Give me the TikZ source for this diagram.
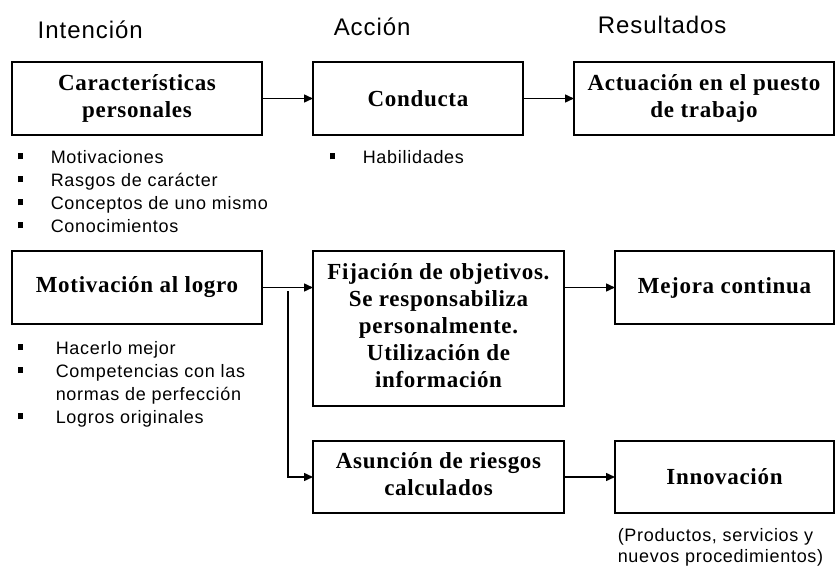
\documentclass[tikz,border=0pt]{standalone}
\usepackage{fontspec}
\setmainfont{Liberation Serif}
\newfontfamily\headfont[LetterSpace=4]{Liberation Sans}
\newfontfamily\listfont[LetterSpace=4]{Liberation Sans}
\newfontfamily\boxfont[LetterSpace=3]{Liberation Serif}
\usetikzlibrary{arrows.meta}
\tikzset{
	box/.style={draw, inner sep=0, outer sep=0,
		font=\boxfont\bfseries\fontsize{23}{27}\selectfont},
	head/.style={inner sep=0, anchor=base west,
		font=\headfont\fontsize{24}{28}\selectfont},
	lst/.style={inner sep=0, anchor=base west,
		font=\listfont\fontsize{18}{23}\selectfont}
}
\newcommand{\bul}{\rule[4pt]{5pt}{6pt}}
\newcommand{\itm}[2][33pt]{\makebox[#1][l]{\bul}#2}

\begin{document}
\begin{tikzpicture}[x=1pt,y=-1pt,->,>={Triangle[length=9pt,width=8pt]},
		line width=1.5pt]
		\useasboundingbox (0,0) rectangle (836,567);
		
		\node[head] (hInt) at (37,39) {Intención};
		\node[head] (hAcc) at (333,36) {Acción};
		\node[head] (hRes) at (597,34) {Resultados};
		
		\node[box, minimum width=250pt, minimum height=73pt] (caract) at (137,98.5) {\begin{tabular}{c} Características\\ personales \end{tabular}};
		\node[box, minimum width=210pt, minimum height=73pt] (conducta) at (418,98.5) {Conducta};
		\node[box, minimum width=260pt, minimum height=73pt] (actuacion) at (704,98.5) {\begin{tabular}{c} Actuación en el puesto\\ de trabajo \end{tabular}};
		
		\node[box, minimum width=250pt, minimum height=73pt] (motiv) at (137,287.5) {Motivación al logro};
		\node[box, minimum width=251pt, minimum height=155pt] (fijacion) at (438.5,328.5) {\begin{tabular}{c}
				Fijación de objetivos.\\ Se responsabiliza\\ personalmente.\\
				Utilización de\\ información
		\end{tabular}};
		\node[box, minimum width=219pt, minimum height=73pt] (mejora) at (724.5,287.5) {Mejora continua};
		\node[box, minimum width=251pt, minimum height=72pt] (asuncion) at (438.5,477) {\begin{tabular}{c} Asunción de riesgos\\ calculados \end{tabular}};
		\node[box, minimum width=219pt, minimum height=72pt] (innovacion) at (724.5,477) {Innovación};
		
		\node[lst] (lCar) at (17,163.5) {\begin{tabular}[t]{@{}l@{}}
				\itm{Motivaciones}\\ \itm{Rasgos de carácter}\\
				\itm{Conceptos de uno mismo}\\ \itm{Conocimientos}
		\end{tabular}};
		\node[lst] (lCon) at (329,163.5) {\itm{Habilidades}};
		\node[lst] (lMot) at (17,354) {\begin{tabular}[t]{@{}l@{}}
				\itm[38pt]{Hacerlo mejor}\\ \itm[38pt]{Competencias con las}\\
				\hspace*{38pt}normas de perfección\\ \itm[38pt]{Logros originales}
		\end{tabular}};
		\node[lst] (nota) at (617,541) {\begin{tabular}[t]{@{}l@{}} (Productos, servicios y\\[-1.5pt] nuevos procedimientos)\end{tabular}};
		
		\coordinate (split) at (288,291);
		
		\draw (caract) -- (conducta);
		\draw (conducta) -- (actuacion);
		\draw (motiv) -- (motiv -| fijacion.west);
		\draw (fijacion.east |- mejora) -- (mejora);
		\draw (split) |- (asuncion);
		\draw (asuncion) -- (innovacion);
\end{tikzpicture}
\end{document}
